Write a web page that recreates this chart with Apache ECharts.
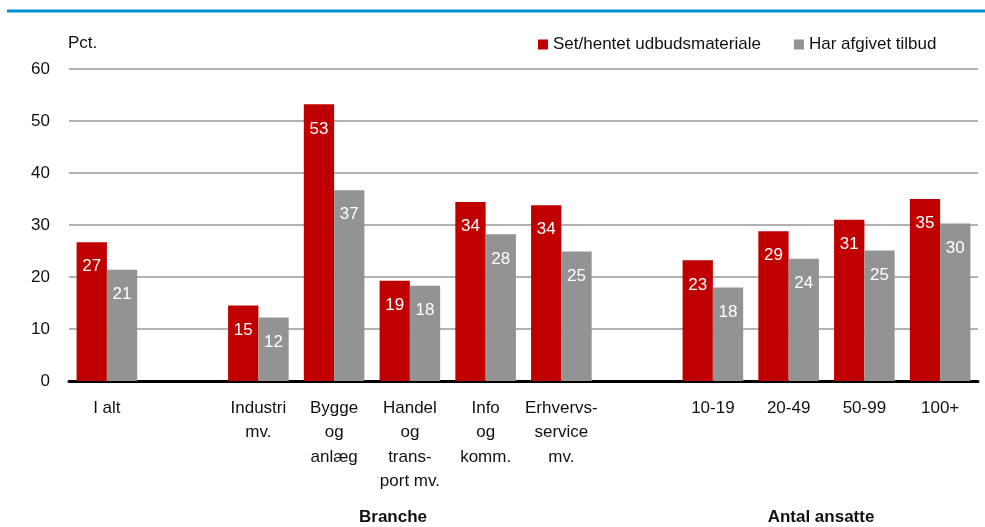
<!DOCTYPE html>
<html>
<head>
<meta charset="utf-8">
<script src="https://cdn.jsdelivr.net/npm/echarts@6/dist/echarts.min.js"></script>
<style>
  html, body { margin: 0; padding: 0; background: #fff; }
  #chart { width: 985px; height: 527px; }
</style>
</head>
<body>
<div id="chart"></div>
<script>
  // kategorier (tomme felter giver mellemrum mellem grupperne)
  var categories = ['I alt', '', 'Industri\nmv.', 'Bygge\nog\nanlæg', 'Handel\nog\ntrans-\nport mv.',
    'Info\nog\nkomm.', 'Erhvervs-\nservice\nmv.', '', '10-19', '20-49', '50-99', '100+'];
  var setHentet = [26.7, null, 14.5, 53.2, 19.3, 34.4, 33.8, null, 23.2, 28.8, 31.0, 35.0];
  var afgivetTilbud = [21.4, null, 12.2, 36.7, 18.3, 28.2, 24.9, null, 18.0, 23.5, 25.1, 30.3];
  var seriesNames = ['Set/hentet udbudsmateriale', 'Har afgivet tilbud'];
  var yTicks = { min: 0, max: 60, interval: 10 };

  var font = '"Liberation Sans Narrow", "Arial Narrow", "Liberation Sans", sans-serif';

  var chart = echarts.init(document.getElementById('chart'));

  var valueLabel = {
    show: true,
    position: 'insideTop',
    distance: 16,
    color: '#fff',
    fontFamily: font,
    fontSize: 17,
    formatter: function (p) { return Math.round(p.value); }
  };

  chart.setOption({
    animation: false,
    textStyle: { fontFamily: font },
    grid: { left: 69, right: 7, top: 69, bottom: 146 },
    legend: {
      left: 533,
      top: 31,
      icon: 'rect',
      itemWidth: 10,
      itemHeight: 10,
      itemGap: 33,
      textStyle: { fontFamily: font, fontSize: 17, color: '#111' },
      data: seriesNames
    },
    graphic: [
      { type: 'line', shape: { x1: 7, y1: 11, x2: 985, y2: 11 },
        style: { stroke: '#0090d4', lineWidth: 3 } },
      { type: 'text', left: 68, top: 35,
        style: { text: 'Pct.', fontFamily: font, fontSize: 17, fill: '#111' } },
      { type: 'text', x: 393, y: 517,
        style: { text: 'Branche', fontFamily: font, fontSize: 17, fontWeight: 'bold',
          fill: '#111', align: 'center', verticalAlign: 'middle' } },
      { type: 'text', x: 821, y: 517,
        style: { text: 'Antal ansatte', fontFamily: font, fontSize: 17, fontWeight: 'bold',
          fill: '#111', align: 'center', verticalAlign: 'middle' } }
    ],
    xAxis: {
      type: 'category',
      data: categories,
      axisLine: { lineStyle: { color: '#000', width: 3 } },
      axisTick: { show: false },
      axisLabel: {
        interval: 0,
        margin: 15,
        color: '#111',
        fontFamily: font,
        fontSize: 17,
        lineHeight: 24.5
      }
    },
    yAxis: {
      type: 'value',
      min: yTicks.min,
      max: yTicks.max,
      interval: yTicks.interval,
      axisLine: { show: false },
      axisTick: { show: false },
      axisLabel: { margin: 19, color: '#111', fontFamily: font, fontSize: 17 },
      splitLine: { lineStyle: { color: '#999', width: 1.5 } }
    },
    series: [
      {
        name: seriesNames[0],
        type: 'bar',
        data: setHentet,
        barWidth: '40%',
        barGap: '0%',
        itemStyle: { color: '#c00000' },
        label: valueLabel
      },
      {
        name: seriesNames[1],
        type: 'bar',
        data: afgivetTilbud,
        barWidth: '40%',
        itemStyle: { color: '#939393' },
        label: valueLabel
      }
    ]
  });
</script>
</body>
</html>
